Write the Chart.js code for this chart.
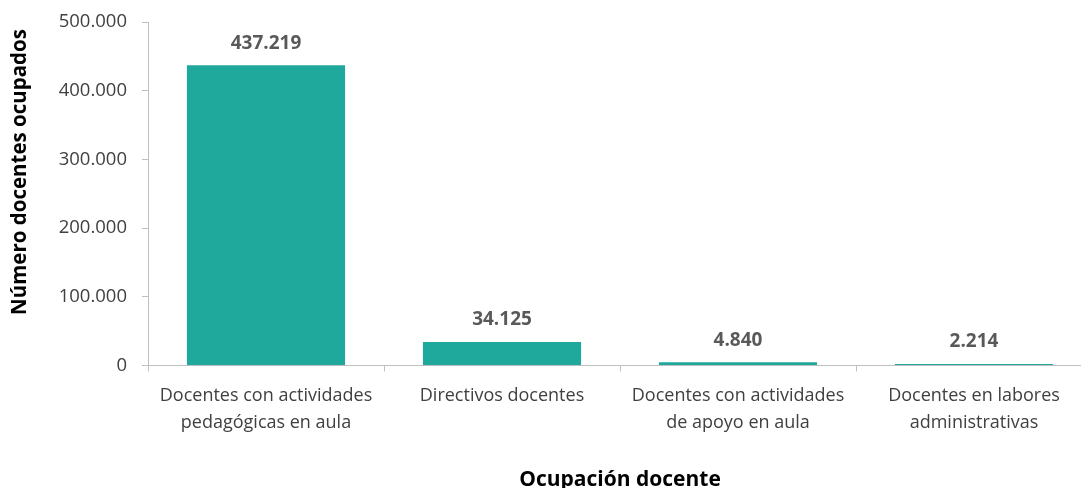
<!DOCTYPE html>
<html><head><meta charset="utf-8">
<script src="https://cdn.jsdelivr.net/npm/chart.js@4/dist/chart.umd.min.js"></script>
<style>
html,body{margin:0;padding:0;background:#fff;overflow:hidden;}
#wrap{position:relative;width:1092px;height:488px;}
</style></head><body>
<div id="wrap"><canvas id="c"></canvas></div>
<script>
const categories = [
  ["Docentes con actividades","pedagógicas en aula"],
  ["Directivos docentes"],
  ["Docentes con actividades","de apoyo en aula"],
  ["Docentes en labores","administrativas"]
];
const values = [437219, 34125, 4840, 2214];
const yTicks = [0, 100000, 200000, 300000, 400000, 500000];
const yTitle = "Número docentes ocupados";
const xTitle = "Ocupación docente";

const FONT = "'Open Sans', 'Noto Sans', sans-serif";
const fmt = v => v.toString().replace(/\B(?=(\d{3})+(?!\d))/g, ".");

const labelsPlugin = {
  id: 'vlabels',
  afterDatasetsDraw(chart) {
    const ctx = chart.ctx;
    const meta = chart.getDatasetMeta(0);
    ctx.save();
    ctx.font = "bold 19px " + FONT;
    ctx.fillStyle = "#595959";
    ctx.textAlign = "center";
    ctx.textBaseline = "middle";
    meta.data.forEach((el, i) => {
      ctx.fillText(fmt(values[i]), el.x, el.y - 22);
    });
    ctx.restore();
  }
};
const yTitlePlugin = {
  id: 'ytitle',
  afterDraw(chart) {
    const ctx = chart.ctx;
    ctx.save();
    ctx.translate(20, 172);
    ctx.rotate(-Math.PI/2);
    ctx.font = "bold 20.5px " + FONT;
    ctx.fillStyle = "#000";
    ctx.textAlign = "center";
    ctx.textBaseline = "middle";
    ctx.fillText(yTitle, 0, 0);
    ctx.restore();
  }
};

new Chart(document.getElementById('c'), {
  type: 'bar',
  data: {
    labels: categories,
    datasets: [{
      data: values,
      backgroundColor: '#1FA99D',
      borderWidth: 0,
      barPercentage: 0.67,
      categoryPercentage: 1.0
    }]
  },
  options: {
    responsive: true,
    maintainAspectRatio: false,
    animation: false,
    events: [],
    layout: { padding: { left: 0, right: 0, top: 22, bottom: 0 } },
    plugins: { legend: { display: false }, tooltip: { enabled: false } },
    scales: {
      x: {
        offset: true,
        grid: { display: true, drawOnChartArea: false, offset: true, color: '#BFBFBF', tickLength: 6, tickWidth: 1 },
        border: { color: '#BFBFBF', width: 1 },
        ticks: { color: '#404040', font: { family: FONT, size: 18, lineHeight: 1.5 }, padding: 11, maxRotation: 0, autoSkip: false },
        title: { display: true, text: xTitle, color: '#000', font: { family: FONT, size: 21, weight: 'bold', lineHeight: 0.75 }, padding: { top: 14, bottom: 0 } },
        afterFit(s) { s.height = 488 - 365.5; }
      },
      y: {
        min: 0, max: 500000,
        afterBuildTicks(s) { s.ticks = yTicks.map(v => ({ value: v })); },
        grid: { display: true, drawOnChartArea: false, color: '#BFBFBF', tickLength: 6 },
        border: { color: '#BFBFBF', width: 1 },
        ticks: { color: '#404040', font: { family: FONT, size: 18.5 }, padding: 15, callback: v => fmt(v) },
        afterFit(s) { s.width = 148; s.paddingTop = 0; s.paddingBottom = 0; }
      }
    }
  },
  plugins: [labelsPlugin, yTitlePlugin]
});
</script>
</body></html>
